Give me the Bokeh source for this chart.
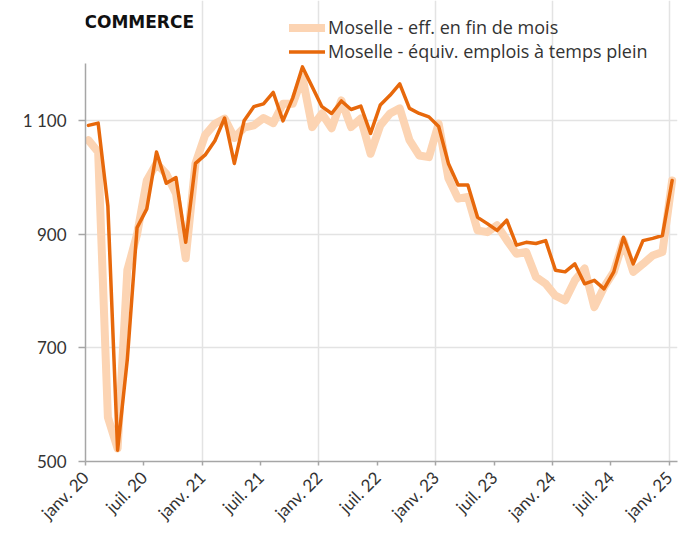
import math
from bokeh.plotting import figure
from bokeh.models import FixedTicker, Legend, LegendItem, Label, Range1d, ColumnDataSource
from bokeh.embed import file_html
from bokeh.resources import INLINE

# ---- data ----
title_text = "COMMERCE"
series_eff_name = "Moselle - eff. en fin de mois"
series_etp_name = "Moselle - équiv. emplois à temps plein"

# monthly values, janv. 2020 .. janv. 2025 (61 months)
eff_fin_mois = [
    1066, 1045, 578, 523, 837, 900, 995, 1025, 1007, 972, 858, 1025,
    1075, 1095, 1104, 1070, 1088, 1092, 1105, 1096, 1130, 1130, 1177, 1089,
    1113, 1087, 1136, 1089, 1104, 1042, 1092, 1113, 1122, 1066, 1039, 1036,
    1095, 999, 963, 966, 907, 904, 916, 890, 866, 869, 825, 813,
    792, 784, 819, 840, 772, 807, 834, 889, 834, 848, 863, 869,
    995,
]
equiv_temps_plein = [
    1092, 1096, 950, 520, 680, 912, 945, 1045, 990, 1000, 886, 1025,
    1040, 1065, 1105, 1025, 1100, 1125, 1130, 1150, 1100, 1140, 1195, 1160,
    1125, 1113, 1135, 1120, 1126, 1078, 1128, 1145, 1165, 1122, 1113, 1107,
    1090, 1025, 987, 987, 930, 919, 907, 925, 881, 886, 884, 889,
    837, 834, 848, 813, 819, 804, 834, 895, 848, 889, 893, 898,
    995,
]
x_tick_months = [0, 6, 12, 18, 24, 30, 36, 42, 48, 54, 60]
x_tick_labels = ["janv. 20", "juil. 20", "janv. 21", "juil. 21", "janv. 22",
                 "juil. 22", "janv. 23", "juil. 23", "janv. 24", "juil. 24", "janv. 25"]
y_ticks = [500, 700, 900, 1100]
y_tick_labels = ["500", "700", "900", "1 100"]
y_axis_min, y_axis_max = 500, 1201

# ---- styling ----
FONT = "Lato"
TXT = "#333333"
PEACH = "#FCD4B3"
ORANGE = "#E7680B"
GRID = "#e3e3e3"
AXIS = "#a6a6a6"

month_offset = 0.3
xs = [i + month_offset for i in range(len(eff_fin_mois))]
src = ColumnDataSource(dict(x=xs, eff=eff_fin_mois, etp=equiv_temps_plein))

W, H = 679, 533
BL, BR, BT, BB = 85, 2, 0, 72
frame_h = H - BT - BB            # 461
axis_top_px = 63                 # where the value axis ends (from top)
units_per_px = (y_axis_max - y_axis_min) / (frame_h - axis_top_px)
y_top = y_axis_max + axis_top_px * units_per_px

p = figure(width=W, height=H, output_backend="svg", toolbar_location=None,
           x_range=Range1d(0, 60.85), y_range=Range1d(y_axis_min, y_top),
           min_border_left=BL, min_border_right=BR, min_border_top=BT,
           min_border_bottom=BB)
p.outline_line_color = None
p.background_fill_color = "white"
p.border_fill_color = "white"

r1 = p.line("x", "eff", source=src, color=PEACH, line_width=8,
            line_join="round", line_cap="round")
r2 = p.line("x", "etp", source=src, color=ORANGE, line_width=3.5,
            line_join="round", line_cap="round")

# axes
p.xaxis.ticker = FixedTicker(ticks=x_tick_months)
p.xaxis.major_label_overrides = {m: l for m, l in zip(x_tick_months, x_tick_labels)}
p.xaxis.major_label_orientation = math.pi / 4
p.yaxis.ticker = FixedTicker(ticks=y_ticks)
p.yaxis.major_label_overrides = {v: l for v, l in zip(y_ticks, y_tick_labels)}
p.yaxis.bounds = (y_axis_min, y_axis_max)
for ax in (p.xaxis, p.yaxis):
    ax.axis_line_color = AXIS
    ax.axis_line_width = 1.5
    ax.major_tick_line_color = AXIS
    ax.major_tick_line_width = 1.5
    ax.minor_tick_line_color = None
    ax.major_tick_in = 0
    ax.major_label_text_font = FONT
    ax.major_label_text_font_size = "17px"
    ax.major_label_text_color = TXT
p.xaxis.major_tick_out = 4
p.yaxis.major_tick_out = 7
p.yaxis.major_label_standoff = 12
p.xaxis.major_label_standoff = 9

p.xgrid.ticker = FixedTicker(ticks=[0, 12, 24, 36, 48, 60])
p.xgrid.bounds = (y_axis_min, y_axis_max)
p.xgrid.grid_line_color = GRID
p.xgrid.grid_line_width = 1.5
p.ygrid.grid_line_color = GRID
p.ygrid.grid_line_width = 1.5

# legend (inside the tall frame, above the value axis end)
legend = Legend(items=[LegendItem(label=series_eff_name, renderers=[r1]),
                       LegendItem(label=series_etp_name, renderers=[r2])],
                location=(204, frame_h - 63), padding=0, margin=0, spacing=0,
                glyph_width=36, glyph_height=21, label_height=21,
                label_standoff=3, border_line_color=None,
                background_fill_alpha=0,
                label_text_font="Open Sans", label_text_font_size="18px",
                label_text_color=TXT)
p.add_layout(legend)

title = Label(x=-1, y=frame_h - 21, x_units="screen", y_units="screen",
              text=title_text, text_font="DejaVu Sans", text_font_size="17px",
              text_font_style="bold", text_color="#111111",
              text_baseline="middle", text_align="left")
p.add_layout(title)

open("out.html", "w").write(file_html(p, INLINE))
